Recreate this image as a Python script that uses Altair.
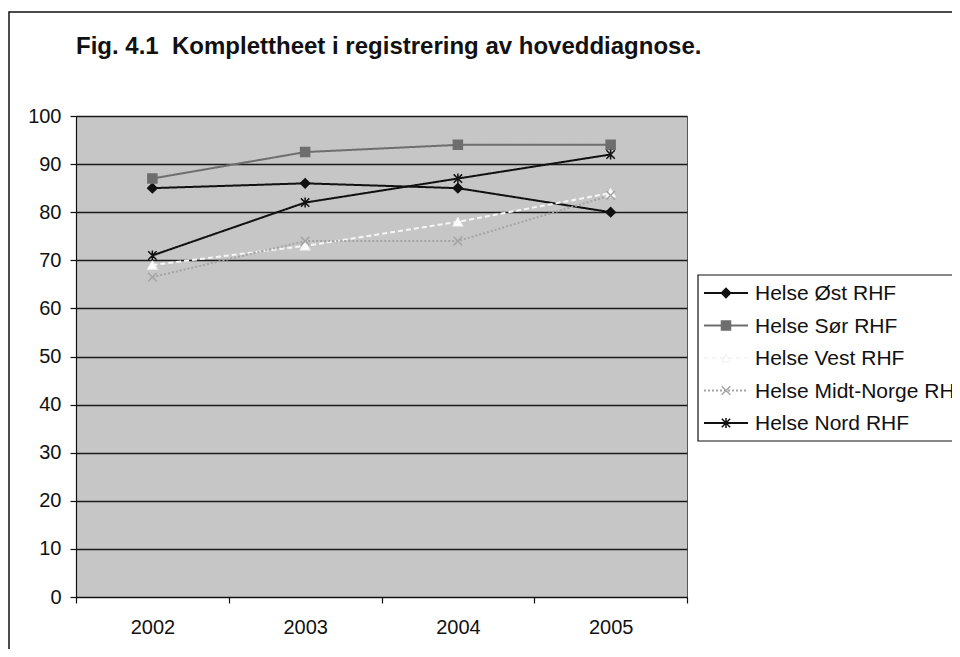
import altair as alt
import pandas as pd

# ---- data ----
years = [2002, 2003, 2004, 2005]
series = ["Helse Øst RHF", "Helse Sør RHF", "Helse Vest RHF",
          "Helse Midt-Norge RHF", "Helse Nord RHF"]
ost = [85, 86, 85, 80]
sor = [87, 92.5, 94, 94]
vest = [69, 73, 78, 84]
midt = [66.5, 74, 74, 83.5]
nord = [71, 82, 87, 92]
title_text = "Fig. 4.1\u00a0 Komplettheet i registrering av hoveddiagnose."
y_ticks = list(range(0, 101, 10))
x_tick_edges = [2001.5, 2002.5, 2003.5, 2004.5, 2005.5]

rows = []
for name, vals in zip(series, [ost, sor, vest, midt, nord]):
    for yr, v in zip(years, vals):
        rows.append({"series": name, "year": yr, "value": v})
df = pd.DataFrame(rows)
leg_df = pd.DataFrame({"series": series})
one = pd.DataFrame({"k": [0]})

FONT = "Liberation Sans"

stroke_scale = alt.Scale(domain=series, range=["#111111", "#6e6e6e", "#f6f6f6", "#a4a4a4", "#111111"])
fill_scale = alt.Scale(domain=series, range=["#111111", "#6e6e6e", "#ffffff", "transparent", "transparent"])
shape_scale = alt.Scale(domain=series, range=[
    "diamond", "square", "triangle-up",
    "M-1,-1L1,1M-1,1L1,-1",
    "M-1,-1L1,1M-1,1L1,-1M0,-1.2L0,1.2"])
dash_scale = alt.Scale(domain=series, range=[[1, 0], [1, 0], [5, 3], [2, 2], [1, 0]])
size_scale = alt.Scale(domain=series, range=[85, 70, 100, 110, 140])

x_enc = alt.X("year:Q",
              scale=alt.Scale(domain=[2001.5, 2005.5], nice=False, zero=False),
              axis=alt.Axis(values=x_tick_edges,
                            labelExpr="datum.value < 2005 ? toString(datum.value + 0.5) : ''",
                            labelOffset=76.4, tickSize=6, labelPadding=14, grid=False,
                            title=None, labelOverlap=False, labelBound=False,
                            labelFlush=False))
y_enc = alt.Y("value:Q", scale=alt.Scale(domain=[0, 100], nice=False),
              axis=alt.Axis(values=y_ticks, tickSize=6, labelPadding=9, grid=True,
                            gridColor="#1a1a1a", gridWidth=1.6, title=None))

stroke_enc = alt.Stroke("series:N", scale=stroke_scale, legend=None)
dash_enc = alt.StrokeDash("series:N", scale=dash_scale, legend=None)
fill_enc = alt.Fill("series:N", scale=fill_scale, legend=None)
shape_enc = alt.Shape("series:N", scale=shape_scale, legend=None)
size_enc = alt.Size("series:N", scale=size_scale, legend=None)

lines = alt.Chart(df).mark_line(strokeWidth=2).encode(
    x=x_enc, y=y_enc, stroke=stroke_enc, strokeDash=dash_enc)
points = alt.Chart(df).mark_point(opacity=1, strokeWidth=1.5).encode(
    x=x_enc, y=y_enc, stroke=stroke_enc, fill=fill_enc, shape=shape_enc, size=size_enc)
data_layer = alt.layer(lines, points)

leg_y = alt.Y("series:N", scale=alt.Scale(domain=series, type="point", range=[177, 307], padding=0),
              axis=None, sort=series)
leg_box = alt.Chart(one).mark_rect(fill="white", stroke="#111111", strokeWidth=1.2).encode(
    x=alt.value(622), x2=alt.value(1000), y=alt.value(159), y2=alt.value(325))
leg_rule = alt.Chart(leg_df).mark_rule(strokeWidth=2).encode(
    x=alt.value(628), x2=alt.value(672), y=leg_y, stroke=stroke_enc, strokeDash=dash_enc)
leg_pts = alt.Chart(leg_df).mark_point(opacity=1, strokeWidth=1.5).encode(
    x=alt.value(650), y=leg_y, stroke=stroke_enc, fill=fill_enc, shape=shape_enc, size=size_enc)
leg_txt = alt.Chart(leg_df).mark_text(align="left", baseline="middle", fontSize=21,
                                      font=FONT, color="#111111", dy=1).encode(
    x=alt.value(679), y=leg_y, text="series:N")
legend_layer = alt.layer(leg_box, leg_rule, leg_pts, leg_txt)

frame = alt.Chart(one).mark_rect(fill="transparent", stroke="#111111", strokeWidth=1.5).encode(
    x=alt.value(-67), x2=alt.value(1000), y=alt.value(-104), y2=alt.value(1000))
title = alt.Chart(one).mark_text(align="left", baseline="alphabetic", fontSize=24,
                                 fontWeight="bold", font=FONT, color="#111111").encode(
    x=alt.value(0), y=alt.value(-62), text=alt.value(title_text))

chart = alt.layer(frame, title, data_layer, legend_layer).resolve_scale(
    y="independent"
).properties(
    width=611, height=481,
    autosize=alt.AutoSizeParams(type="none"),
    padding={"left": 68, "top": 108, "right": 265, "bottom": 52},
    background="white",
).configure_view(
    fill="#c6c6c6", stroke="#555555", strokeWidth=1
).configure_axis(
    labelFont=FONT, labelFontSize=20, labelColor="#111111",
    domainColor="#111111", tickColor="#111111", domainWidth=1.2, tickWidth=1.2
)

chart.save("out.html", embed_options={"renderer": "svg", "actions": False})
